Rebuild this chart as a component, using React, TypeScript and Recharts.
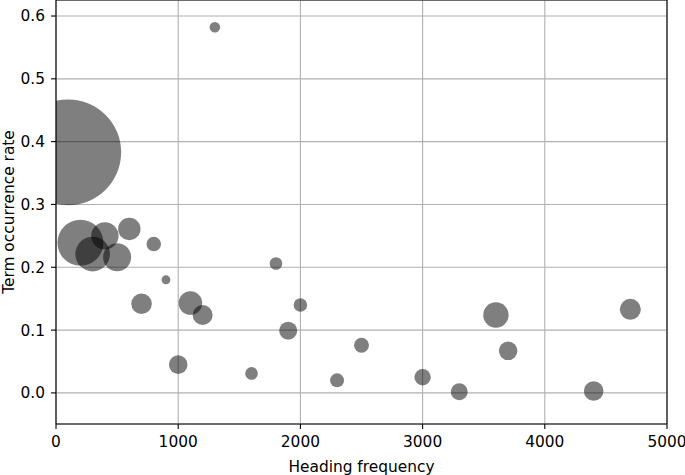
import React from 'react';
import {
  ScatterChart,
  Scatter,
  XAxis,
  YAxis,
  ZAxis,
  CartesianGrid,
  ReferenceLine,
} from 'recharts';

// heading frequency (x), term occurrence rate (y), bubble weight (area-ish)
const headingFrequency = [
  100, 200, 300, 400, 500, 600, 700, 800, 900, 1000, 1100, 1200, 1300,
  1600, 1800, 1900, 2000, 2300, 2500, 3000, 3300, 3600, 3700, 4400, 4700,
];
const termOccurrenceRate = [
  0.383, 0.239, 0.221, 0.25, 0.216, 0.261, 0.142, 0.237, 0.18, 0.045, 0.143, 0.124, 0.582,
  0.031, 0.206, 0.099, 0.14, 0.02, 0.076, 0.025, 0.002, 0.124, 0.067, 0.003, 0.133,
];
const bubbleWeight = [
  2800, 529, 300, 188, 196, 125, 106, 53, 20, 86, 139, 100, 28,
  40, 40, 81, 46, 49, 56, 67, 72, 161, 86, 96, 110,
];

const xTicks = [0, 1000, 2000, 3000, 4000, 5000];
const yTicks = [0, 0.1, 0.2, 0.3, 0.4, 0.5, 0.6];

const X_DOMAIN: [number, number] = [0, 5000];
const Y_DOMAIN: [number, number] = [-0.0495, 0.6255];
const Z_MAX = 3000;

const FONT = '"DejaVu Sans", sans-serif';
const FONT_SIZE = 15.4;

const points = headingFrequency.map((x, i) => ({
  x,
  y: termOccurrenceRate[i],
  z: bubbleWeight[i],
}));

const App = () => {
  const textStyle = { fontSize: FONT_SIZE, fill: '#000', fontFamily: FONT };
  return (
    <div style={{ position: 'absolute', left: 0, top: 0, width: 685, height: 475, background: '#fff' }}>
      <ScatterChart
        width={685}
        height={475}
        margin={{ top: 0, right: 18, bottom: 0, left: 0 }}
        style={{ fontFamily: FONT }}
      >
        <CartesianGrid stroke="#b0b0b0" strokeWidth={1.1} />
        <XAxis
          type="number"
          dataKey="x"
          domain={X_DOMAIN}
          ticks={xTicks}
          allowDataOverflow
          height={51}
          tickSize={5}
          tickMargin={7}
          tick={textStyle}
          axisLine={{ stroke: '#000', strokeWidth: 1.1 }}
          tickLine={{ stroke: '#000', strokeWidth: 1.1 }}
          label={{
            value: 'Heading frequency',
            position: 'insideBottom',
            offset: 3,
            style: textStyle,
          }}
        />
        <YAxis
          type="number"
          dataKey="y"
          domain={Y_DOMAIN}
          ticks={yTicks}
          width={56}
          tickSize={5}
          tickMargin={6}
          tick={textStyle}
          tickFormatter={(v: number) => v.toFixed(1)}
          axisLine={{ stroke: '#000', strokeWidth: 1.1 }}
          tickLine={{ stroke: '#000', strokeWidth: 1.1 }}
          label={{
            value: 'Term occurrence rate',
            angle: -90,
            position: 'insideLeft',
            offset: 8.5,
            style: { ...textStyle, textAnchor: 'middle' },
          }}
        />
        <ZAxis type="number" dataKey="z" domain={[0, Z_MAX]} range={[0, Z_MAX * Math.PI]} />
        <ReferenceLine y={Y_DOMAIN[1]} stroke="#000" strokeWidth={1.1} />
        <ReferenceLine x={X_DOMAIN[1]} stroke="#000" strokeWidth={1.1} />
        <Scatter data={points} fill="#000" fillOpacity={0.5} isAnimationActive={false} />
      </ScatterChart>
    </div>
  );
};

export default App;
